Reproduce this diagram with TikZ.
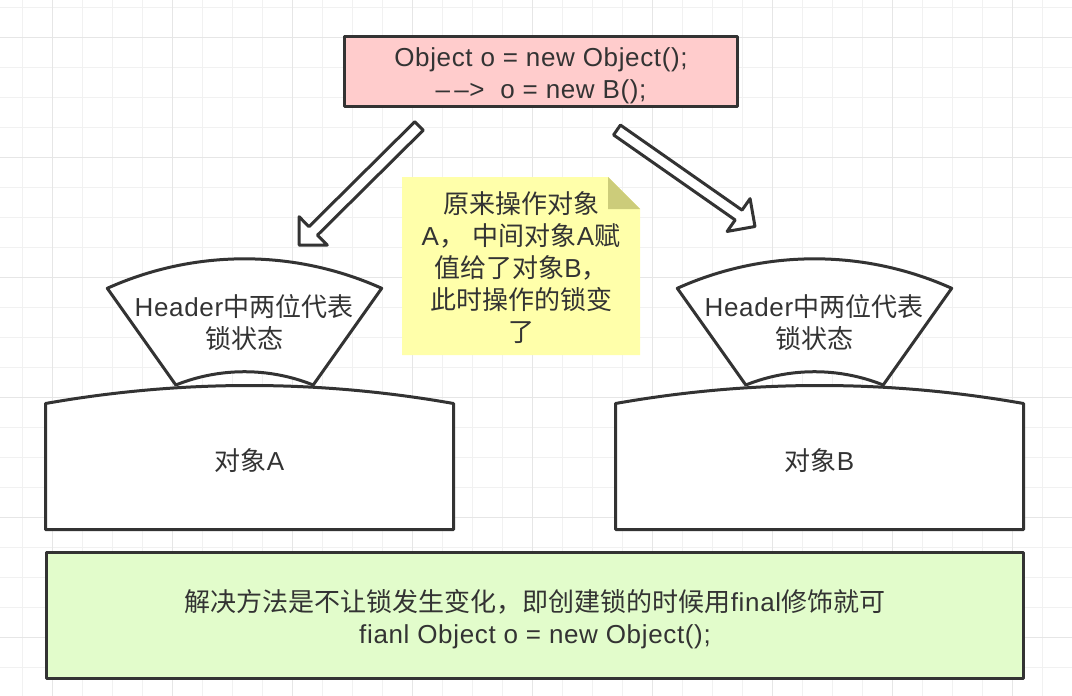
\documentclass[tikz,border=0pt]{standalone}
\usepackage{fontspec}
\setmainfont{Liberation Sans}[LetterSpace=2.5]
\newfontfamily\cjk{Noto Sans CJK SC}
\usetikzlibrary{calc}
\definecolor{ink}{HTML}{333333}
\definecolor{pinkfill}{HTML}{FFCCCC}
\definecolor{notefill}{HTML}{FFFFAA}
\definecolor{notefold}{HTML}{CCCC7A}
\definecolor{greenfill}{HTML}{E2FCCB}
\definecolor{gridminor}{HTML}{F1F1F1}
\definecolor{gridmajor}{HTML}{E6E6E6}
\newcommand\dgfont{\fontsize{26}{32}\selectfont}
\tikzset{
  shapeline/.style={draw=ink, line width=3pt, line join=round},
  boxnode/.style={shapeline, rectangle, inner sep=0pt},
  txt/.style={inner sep=0pt, align=center, text=ink, font=\dgfont},
  minorgrid/.style={draw=gridminor, line width=1.3pt},
  majorgrid/.style={draw=gridmajor, line width=1.5pt},
  blockarrow/.style={shapeline, fill=white},
}
\begin{document}
\begin{tikzpicture}[x=1pt,y=-1pt]
\useasboundingbox (0,0) rectangle (1072,696);
\fill[white] (0,0) rectangle (1072,696);
% grid
\foreach \i in {0,...,35} \draw[minorgrid] ({22.7+30*\i},0) -- ++(0,696);
\foreach \j in {0,...,23} \draw[minorgrid] (0,{7.7+30*\j}) -- ++(1072,0);
\foreach \i in {0,...,8} \draw[majorgrid] ({52.7+120*\i},0) -- ++(0,696);
\foreach \j in {0,...,5} \draw[majorgrid] (0,{37.7+120*\j}) -- ++(1072,0);

% top code box
\node[boxnode, fill=pinkfill, minimum width=393pt, minimum height=70pt] (src) at (541,71.5) {};
\node[txt] (srcT) at (541,75.5)
  {Object o = new Object();\\ \textendash\,\textendash>\ \ o = new B();};

% note
\fill[notefill] (402,177) -- (608,177) -- (640,209) -- (640,355) -- (402,355) -- cycle;
\fill[notefold] (608,177) -- (608,209) -- (640,209) -- cycle;
\node[txt] (note) at (521,268)
  {{\cjk 原来操作对象}\\
   A{\cjk ，}\ {\cjk 中间对象}A{\cjk 赋}\\
   {\cjk 值给了对象}B{\cjk ，}\\
   {\cjk 此时操作的锁变}\\
   {\cjk 了}};

% headers
\foreach \cx in {244.5, 814.5}{
  \begin{scope}[shift={(\cx,0)}]
    \draw[shapeline, fill=white] (-137.2,288.3) .. controls (-49.9,249.0) and (49.9,249.0) .. (137.2,288.3)
      -- (68.7,385) .. controls (24.5,367.3) and (-24.5,367.3) .. (-68.7,385) -- cycle;
  \end{scope}
}
\node[txt] (hA) at (244,323) {Header{\cjk 中两位代表}\\{\cjk 锁状态}};
\node[txt] (hB) at (814,323) {Header{\cjk 中两位代表}\\{\cjk 锁状态}};

% objects
\foreach \cx in {249.5, 819.5}{
  \begin{scope}[shift={(\cx,0)}]
    \draw[shapeline, fill=white] (-204,403.5) .. controls (-68,379.5) and (68,379.5) .. (204,403.5)
      -- (204,529.5) -- (-204,529.5) -- cycle;
  \end{scope}
}
\node[txt] (oA) at (249.5,461) {{\cjk 对象}A};
\node[txt] (oB) at (819.5,461) {{\cjk 对象}B};

% block arrows
\coordinate (la-t) at (419,126);
\coordinate (la-p) at (299,245);
\coordinate (la-h) at ($(la-p)!20pt!(la-t)$);
\draw[blockarrow] ($(la-t)!6pt!90:(la-p)$) -- ($(la-h)!6pt!-90:(la-t)$) -- ($(la-h)!20pt!-90:(la-t)$)
  -- (la-p) -- ($(la-h)!20pt!90:(la-t)$) -- ($(la-h)!6pt!90:(la-t)$) -- ($(la-t)!6pt!-90:(la-p)$) -- cycle;

\coordinate (ra-t) at (617,130);
\coordinate (ra-p) at (755,226.5);
\coordinate (ra-h) at ($(ra-p)!20pt!(ra-t)$);
\draw[blockarrow] ($(ra-t)!6pt!90:(ra-p)$) -- ($(ra-h)!6pt!-90:(ra-t)$) -- ($(ra-h)!20pt!-90:(ra-t)$)
  -- (ra-p) -- ($(ra-h)!20pt!90:(ra-t)$) -- ($(ra-h)!6pt!90:(ra-t)$) -- ($(ra-t)!6pt!-90:(ra-p)$) -- cycle;

% solution box
\node[boxnode, fill=greenfill, minimum width=977pt, minimum height=126.5pt] (sol) at (535,615.3) {};
\node[txt] (solT) at (535,619.5)
  {{\cjk 解决方法是不让锁发生变化，即创建锁的时候用}final{\cjk 修饰就可}\\ fianl Object o = new Object();};
\end{tikzpicture}
\end{document}
